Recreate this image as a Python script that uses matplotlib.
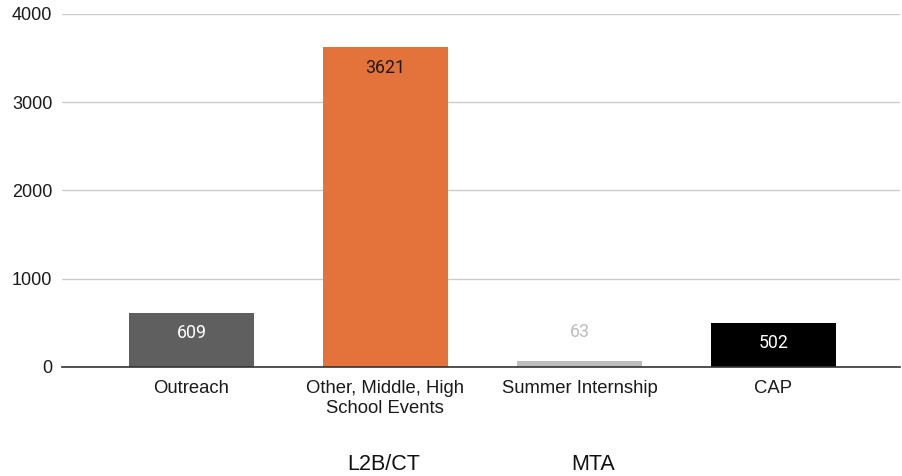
import matplotlib
matplotlib.use('Agg')
import matplotlib.pyplot as plt
from matplotlib import transforms

categories = ['Outreach', 'Other, Middle, High\nSchool Events', 'Summer Internship', 'CAP']
values = [609, 3621, 63, 502]
bar_colors = ['#5f5f5f', '#e3733a', '#bdbdbd', '#000000']
label_colors = ['#ffffff', '#1a1a1a', '#bdbdbd', '#ffffff']
groups = ['L2B/CT', 'MTA']
group_pos = [0.99, 2.07]
yticks = [0, 1000, 2000, 3000, 4000]

plt.rcParams['font.family'] = ['Liberation Sans', 'DejaVu Sans']

fig = plt.figure(figsize=(9.02, 4.76), dpi=100)
ax = fig.add_axes([0.0687, 0.229, 0.929, 0.7416])

x = list(range(len(categories)))
ax.bar(x, values, width=0.644, color=bar_colors, zorder=3)

for xi, v, c in zip(x, values, label_colors):
    if v > 300:
        ax.annotate(str(v), (xi, v), xytext=(0, -14.5), textcoords='offset points',
                    ha='center', va='center', fontsize=12.8, color=c,
                    family='Roboto', zorder=4)
    else:
        ax.annotate(str(v), (xi, v), xytext=(0, 21), textcoords='offset points',
                    ha='center', va='center', fontsize=12.8, color=c,
                    family='Roboto', zorder=4)

ax.set_xlim(-0.667, 3.652)
ax.set_ylim(0, 4000)
ax.set_yticks(yticks)
ax.set_xticks(x)
ax.set_xticklabels(categories, fontsize=13.3, color='#1a1a1a', linespacing=1.25)
ax.tick_params(axis='y', length=0, pad=7, labelsize=13, labelcolor='#1a1a1a')
ax.tick_params(axis='x', length=0, pad=9.5)
ax.grid(axis='y', color='#cccccc', linewidth=1, zorder=0)
for s in ['top', 'right', 'left']:
    ax.spines[s].set_visible(False)
ax.spines['bottom'].set_color('#333333')
ax.spines['bottom'].set_linewidth(1.2)
ax.spines['bottom'].set_zorder(5)

trans = transforms.blended_transform_factory(ax.transData, fig.transFigure)
for g, gp in zip(groups, group_pos):
    ax.text(gp, 1 - 464 / 476, g, transform=trans, ha='center', va='center',
            fontsize=15.5, color='#111111')

fig.savefig('out.png', dpi=100)
